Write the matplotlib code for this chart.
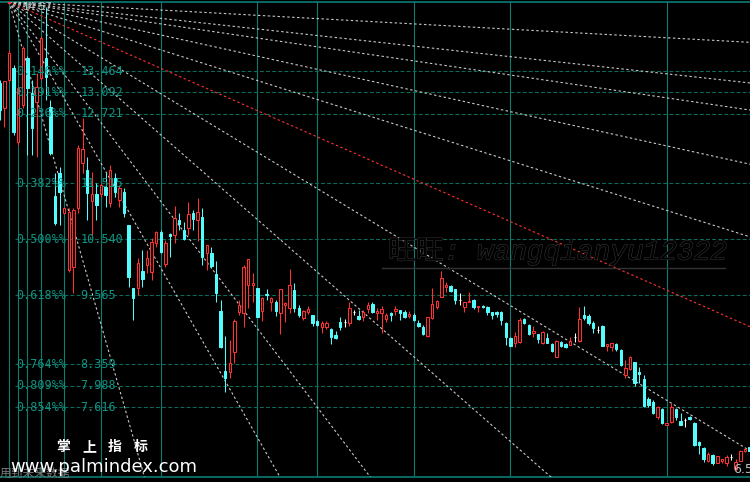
import matplotlib
matplotlib.use("Agg")
import matplotlib.pyplot as plt
import matplotlib.patheffects as pe
from matplotlib.patches import Rectangle
from matplotlib.lines import Line2D

# daily bars
opens = [13.26, 12.82, 13.31, 13.52, 12.23, 12.87, 13.69, 13.08, 12.93, 13.34,
         13.69, 12.84, 11.29, 11.69, 10.99, 10.00, 10.05, 11.08, 11.86, 11.74,
         11.20, 11.32, 11.32, 11.45, 11.17, 11.60, 11.22, 11.36, 10.78, 9.69,
         9.69, 9.98, 10.09, 9.97, 10.47, 10.66, 10.10, 10.63, 10.61, 10.87,
         10.70, 10.73, 10.99, 10.87, 10.92, 10.30, 10.30, 9.93, 9.29, 8.24,
         8.23, 8.57, 9.27, 9.25, 9.74, 9.74, 9.69, 9.29, 9.58, 9.44,
         9.44, 9.25, 9.39, 9.34, 9.65, 9.34, 9.17, 9.27, 9.22, 9.11,
         9.01, 9.01, 8.97, 8.87, 9.10, 9.10, 9.08, 9.27, 9.20, 9.18,
         9.32, 9.41, 9.25, 9.25, 9.15, 9.25, 9.29, 9.30, 9.27, 9.20,
         9.22, 9.08, 9.01, 8.85, 9.17, 9.36, 9.53, 9.70, 9.72, 9.67,
         9.48, 9.36, 9.44, 9.48, 9.36, 9.37, 9.36, 9.27, 9.27, 9.27,
         9.08, 8.82, 8.73, 8.75, 9.15, 9.04, 8.90, 8.89, 8.73, 8.82,
         8.71, 8.49, 8.75, 8.71, 8.70, 8.83, 8.77, 9.22, 9.20, 9.08,
         8.96, 9.03, 8.68, 8.66, 8.71, 8.61, 8.17, 8.28, 8.40, 8.23,
         8.10, 7.76, 7.70, 7.44, 7.58, 7.30, 7.35, 7.58, 7.37, 7.39,
         7.44, 7.34, 7.01, 6.90, 6.68, 6.78, 6.64, 6.68, 6.64, 6.75,
         6.54, 6.68, 6.85, 6.92]
closes = [12.79, 13.29, 13.78, 12.40, 13.17, 13.87, 13.17, 12.47, 13.19, 14.04,
          13.36, 12.04, 10.82, 11.36, 11.08, 11.01, 11.04, 12.12, 12.11, 11.34,
          11.32, 11.13, 11.48, 11.31, 11.74, 11.36, 11.43, 10.99, 9.88, 9.51,
          10.12, 9.84, 10.21, 10.49, 10.66, 10.31, 10.47, 10.59, 10.91, 10.80,
          10.54, 10.98, 10.89, 11.01, 10.23, 10.44, 10.07, 9.60, 8.66, 8.12,
          8.38, 9.11, 9.39, 10.05, 10.19, 9.77, 9.18, 9.51, 9.57, 9.51,
          9.29, 9.67, 9.43, 9.74, 9.34, 9.22, 9.29, 9.32, 9.08, 9.04,
          9.08, 9.08, 8.83, 8.82, 9.01, 9.10, 9.34, 9.27, 9.15, 9.27,
          9.39, 9.27, 9.29, 9.32, 9.22, 9.22, 9.32, 9.25, 9.18, 9.23,
          9.13, 9.03, 8.89, 9.18, 9.41, 9.46, 9.86, 9.74, 9.64, 9.48,
          9.48, 9.44, 9.46, 9.36, 9.37, 9.36, 9.27, 9.22, 9.23, 9.13,
          8.83, 8.68, 8.85, 9.13, 9.08, 8.89, 8.94, 8.80, 8.92, 8.73,
          8.59, 8.77, 8.68, 8.66, 8.77, 8.83, 9.15, 9.17, 9.08, 8.99,
          8.96, 8.68, 8.71, 8.73, 8.63, 8.35, 8.30, 8.49, 8.03, 8.19,
          7.63, 7.65, 7.51, 7.62, 7.34, 7.34, 7.62, 7.44, 7.30, 7.39,
          7.41, 6.95, 6.95, 6.71, 6.80, 6.64, 6.76, 6.71, 6.75, 6.75,
          6.66, 6.85, 6.89, 6.85]
highs = [13.31, 13.29, 13.83, 13.57, 13.20, 13.90, 13.73, 13.31, 13.43, 14.07,
         14.57, 12.96, 11.69, 11.79, 11.10, 11.08, 11.08, 12.18, 12.65, 11.97,
         11.71, 11.51, 11.51, 11.69, 11.83, 11.69, 11.48, 11.43, 10.73, 9.69,
         10.21, 10.35, 10.35, 10.56, 10.68, 10.70, 10.52, 10.64, 11.11, 10.99,
         10.84, 11.18, 11.05, 11.25, 11.08, 10.44, 10.40, 10.16, 9.48, 8.85,
         8.78, 9.15, 9.48, 10.09, 10.19, 9.95, 9.69, 9.53, 9.67, 9.53,
         9.48, 9.67, 9.44, 10.02, 9.77, 9.39, 9.30, 9.37, 9.22, 9.13,
         9.11, 9.11, 8.99, 8.94, 9.18, 9.15, 9.44, 9.30, 9.30, 9.30,
         9.44, 9.44, 9.34, 9.37, 9.25, 9.27, 9.37, 9.30, 9.30, 9.29,
         9.25, 9.13, 9.04, 9.18, 9.69, 9.48, 9.98, 9.79, 9.74, 9.67,
         9.60, 9.44, 9.62, 9.50, 9.37, 9.39, 9.37, 9.27, 9.29, 9.29,
         9.10, 8.83, 8.92, 9.17, 9.17, 9.06, 9.03, 8.89, 8.94, 8.90,
         8.73, 8.78, 8.77, 8.73, 8.83, 8.90, 9.36, 9.37, 9.23, 9.11,
         9.03, 9.04, 8.71, 8.73, 8.73, 8.63, 8.43, 8.50, 8.40, 8.31,
         8.17, 7.79, 7.74, 7.63, 7.60, 7.34, 7.69, 7.60, 7.51, 7.42,
         7.46, 7.35, 7.02, 6.92, 6.83, 6.80, 6.76, 6.71, 6.78, 6.80,
         6.71, 6.87, 6.90, 6.94]
lows = [12.61, 12.49, 13.27, 12.35, 12.18, 12.82, 12.00, 12.00, 11.97, 13.31,
        12.96, 12.00, 10.78, 10.78, 10.98, 9.97, 9.60, 10.99, 11.69, 10.87,
        10.61, 10.87, 11.27, 11.10, 11.10, 11.27, 11.10, 10.92, 9.70, 9.13,
        9.57, 9.70, 9.95, 9.83, 10.40, 10.30, 10.05, 10.23, 10.47, 10.70,
        10.52, 10.61, 10.70, 10.51, 10.09, 10.00, 10.04, 9.44, 8.64, 7.88,
        8.12, 8.38, 9.22, 9.01, 9.34, 9.44, 9.18, 9.11, 9.48, 9.29,
        9.20, 8.89, 9.10, 9.25, 9.27, 9.18, 9.13, 9.23, 9.03, 9.03,
        8.90, 8.97, 8.71, 8.80, 8.96, 9.01, 9.03, 9.22, 9.13, 9.11,
        9.25, 9.25, 9.13, 8.90, 9.10, 9.11, 9.22, 9.13, 9.17, 9.17,
        9.11, 9.01, 8.87, 8.83, 9.15, 9.32, 9.53, 9.62, 9.62, 9.41,
        9.39, 9.27, 9.44, 9.32, 9.27, 9.34, 9.22, 9.15, 9.18, 9.04,
        8.70, 8.68, 8.66, 8.73, 9.06, 8.87, 8.83, 8.73, 8.71, 8.73,
        8.57, 8.49, 8.66, 8.64, 8.70, 8.75, 8.75, 9.13, 9.04, 8.90,
        8.90, 8.68, 8.59, 8.59, 8.59, 8.33, 8.12, 8.26, 7.98, 8.03,
        7.62, 7.62, 7.49, 7.41, 7.32, 7.30, 7.34, 7.39, 7.30, 7.27,
        7.39, 6.94, 6.80, 6.66, 6.66, 6.61, 6.64, 6.64, 6.59, 6.69,
        6.53, 6.68, 6.83, 6.83]

# golden section levels between the high and the low
fib_high = 14.67
fib_low = 6.41
fib_ratios = [0.146, 0.191, 0.236, 0.382, 0.500, 0.618, 0.764, 0.809, 0.854]

# fibonacci time zones (bar index)
time_zones = [2, 4, 6, 9, 14, 22, 35, 56, 69, 90, 111, 145]

# gann fan from the high
fan_start = 2
fan_unit = 0.0351
fan_ratios = [8, 4, 3, 2, 1.382, 1, 1 / 1.382, 1 / 2, 1 / 3, 1 / 4, 1 / 8]

RED = '#ff3232'
CYAN = '#54fcfc'
TEAL = '#0a7c72'
FIBC = '#0b6a58'
FIBT = '#0f9484'


def draw_candles(ax, width=0.56):
    for i in range(len(opens)):
        o, h, l, c = opens[i], highs[i], lows[i], closes[i]
        if c > o:
            col, face = RED, 'black'
        elif c < o:
            col, face = CYAN, CYAN
        else:
            col, face = 'white', 'white'
        ax.vlines(i, l, h, color=col, lw=0.75, zorder=5)
        if c == o:
            ax.hlines(o, i - width / 2, i + width / 2, color=col, lw=0.8, zorder=6)
        else:
            ax.add_patch(Rectangle((i - width / 2, min(o, c)), width, abs(c - o),
                                   facecolor=face, edgecolor=col, lw=0.75, zorder=6))


fig = plt.figure(figsize=(7.5, 4.82), dpi=100, facecolor='black')
ax = fig.add_axes([0, 5 / 482, 1, 475 / 482], facecolor='black')
ax.set_xlim(0.043, 163.09)
ax.set_ylim(6.40, 14.665)
ax.set_xticks([])
ax.set_yticks([])
for s in ['left', 'right']:
    ax.spines[s].set_visible(False)
for s in ['top', 'bottom']:
    ax.spines[s].set_color(TEAL)
    ax.spines[s].set_linewidth(1.2)

# time zones
for t in time_zones:
    ax.axvline(t, color=TEAL, lw=0.8, zorder=1)

# fib levels
ytr = ax.get_yaxis_transform()
for r in fib_ratios:
    p = fib_high - r * (fib_high - fib_low)
    ax.axhline(p, xmin=0.02, xmax=1, color=FIBC, lw=0.8, dashes=(3.5, 2), zorder=2)
    ax.text(0.022, p, '%.3f%%%%' % r, transform=ytr, color=FIBT, fontsize=8.5,
            family='DejaVu Sans Mono', va='center', ha='left', zorder=8)
    ax.text(0.107, p, '%.3f' % p, transform=ytr, color=FIBT, fontsize=8.5,
            family='DejaVu Sans Mono', va='center', ha='left', zorder=8)

# gann fan
x_end = len(opens) + 5
for k in fan_ratios:
    y_end = fib_high - fan_unit * k * (x_end - fan_start)
    col = RED if k == 1 else '#c8c8c8'
    ax.plot([fan_start, x_end], [fib_high, y_end], color=col, lw=0.8,
            dashes=(2.2, 2.2), zorder=3)
ax.plot(fan_start, fib_high, 's', color=RED, ms=2, zorder=7)

draw_candles(ax)

# high / low marks
hi = highs.index(max(highs))
lo = lows.index(min(lows))
ax.text(hi + 1.6, max(highs), '%.2f' % max(highs), color='#c0c0c0', fontsize=7.5,
        ha='right', va='center', zorder=8)
ax.text(lo - 0.6, min(lows), '%.2f' % min(lows), color='#c0c0c0', fontsize=9,
        ha='left', va='center', zorder=8)

# watermark
fig.text(388 / 750, 1 - 252 / 482, '旺旺: wangqianyu12322', fontsize=20,
         family=['Liberation Mono', 'Noto Sans CJK SC'], style='italic',
         color='black', va='center', ha='left', zorder=1,
         path_effects=[pe.withStroke(linewidth=0.8, foreground='#343434')])
fig.add_artist(Line2D([382 / 750, 725 / 750], [1 - 268 / 482, 1 - 268 / 482],
                      color='#333333', lw=1))

# bottom left logo
fig.text(0, 1 - 473 / 482, '用到未来数据', fontsize=8.5, family='Noto Sans CJK SC',
         color='#7a7a7a', va='center', ha='left')
for n, ch in enumerate('掌上指标'):
    fig.text((63 + 26 * n) / 750, 1 - 447 / 482, ch, fontsize=10, weight='bold',
             family='Noto Sans CJK SC', color='white', va='center', ha='center')
fig.text(10 / 750, 1 - 472 / 482, 'www.palmindex.com', fontsize=13,
         family='DejaVu Sans', color='white', va='baseline', ha='left')

fig.savefig('out.png', dpi=100, facecolor='black')
